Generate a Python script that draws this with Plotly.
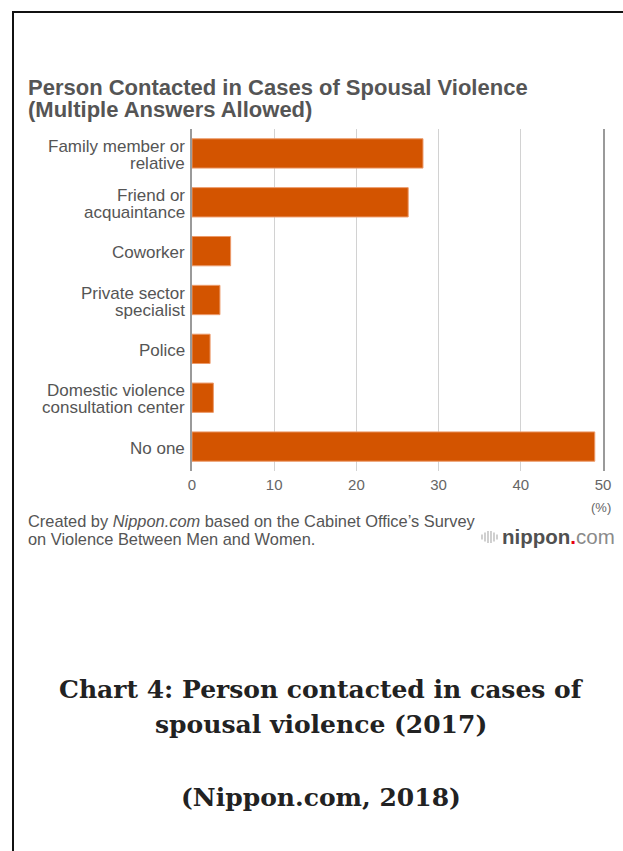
import plotly.graph_objects as go

categories = [
    "Family member or<br>relative",
    "Friend or<br>acquaintance",
    "Coworker",
    "Private sector<br>specialist",
    "Police",
    "Domestic violence<br>consultation center",
    "No one",
]
values = [28.1, 26.3, 4.7, 3.4, 2.2, 2.6, 49.0]
x_ticks = [0, 10, 20, 30, 40, 50]

W, H = 623, 851
L, R, T, B = 192, 20, 129, 380
PW, PH = W - L - R, H - T - B


def px(x):
    return (x - L) / PW


def py(y):
    return 1 - (y - T) / PH


SANS = "Liberation Sans, Arial, Helvetica, sans-serif"
SERIF = "DejaVu Serif, serif"

fig = go.Figure()
fig.add_trace(go.Bar(
    x=values, y=categories, orientation="h",
    marker=dict(color="#d35400", line=dict(color="#ec9a6a", width=1)),
    hoverinfo="x",
))

fig.update_layout(
    width=W, height=H,
    margin=dict(l=L, r=R, t=T, b=B, pad=0),
    paper_bgcolor="white", plot_bgcolor="white",
    showlegend=False,
    bargap=0.4,
    font=dict(family=SANS, color="#555"),
    xaxis=dict(range=[0, 50], tickvals=x_ticks, showgrid=True,
               gridcolor="#d2d2d2", gridwidth=1, zeroline=False,
               showline=False, ticks="", ticklabelstandoff=3,
               tickfont=dict(size=15, color="#666"), fixedrange=True),
    yaxis=dict(autorange="reversed", showgrid=False, showline=True,
               linecolor="#9a9a9a", linewidth=1.5, mirror=True, ticks="",
               showticklabels=False, fixedrange=True),
)

shapes = [
    dict(type="line", xref="paper", yref="paper", x0=px(12), x1=px(623),
         y0=py(12), y1=py(12), line=dict(color="#111", width=2)),
    dict(type="line", xref="paper", yref="paper", x0=px(13), x1=px(13),
         y0=py(11), y1=py(851), line=dict(color="#111", width=2)),
]
# logo icon: small vertical bars forming a disc
for dx, hh in [(0, 5), (3, 9), (6, 12), (9, 12), (12, 9), (15, 5)]:
    shapes.append(dict(type="line", xref="paper", yref="paper",
                       x0=px(482 + dx), x1=px(482 + dx),
                       y0=py(537 - hh / 2), y1=py(537 + hh / 2),
                       line=dict(color="#c4c4c4", width=1.6)))
fig.update_layout(shapes=shapes)

ann = []


def text(t, x, y, size, color="#555", family=SANS, xanchor="left", **kw):
    ann.append(dict(text=t, x=px(x), y=py(y), xanchor=xanchor, yanchor="middle",
                    xref="paper", yref="paper", showarrow=False,
                    font=dict(size=size, color=color, family=family), **kw))


# category labels drawn against the category axis
for cat in categories:
    lines = cat.split("<br>")
    n = len(lines)
    for i, ln in enumerate(lines):
        shift = (i - (n - 1) / 2) * 17
        ann.append(dict(text=ln, x=0, xref="paper", y=cat, yref="y",
                        xanchor="right", yanchor="middle", xshift=-5,
                        yshift=-shift - 1.5, showarrow=False,
                        font=dict(size=17, color="#555", family=SANS)))

text("<b>Person Contacted in Cases of Spousal Violence</b>", 26, 87, 22)
text("<b>(Multiple Answers Allowed)</b>", 26, 109, 22)
text("(%)", 613, 507, 13, color="#666", xanchor="right")
text("Created by <i>Nippon.com</i> based on the Cabinet Office\u2019s Survey", 26, 521, 16.4)
text("on Violence Between Men and Women.", 26, 539, 16.4)
text("<b>nippon</b><span style='color:#e60012'><b>.</b></span><span style='color:#8a8a8a'>com</span>",
     617, 536, 20.5, color="#505050", xanchor="right")
text("<b>Chart 4: Person contacted in cases of</b>", 321, 689, 25, color="#222",
     family=SERIF, xanchor="center")
text("<b>spousal violence (2017)</b>", 321, 724, 25, color="#222",
     family=SERIF, xanchor="center")
text("<b>(Nippon.com, 2018)</b>", 321, 797, 25, color="#222",
     family=SERIF, xanchor="center")
fig.update_layout(annotations=ann)

fig.write_html("out.html", config={"displayModeBar": False},
               post_script="document.body.style.margin='0';document.body.style.overflow='hidden';")
